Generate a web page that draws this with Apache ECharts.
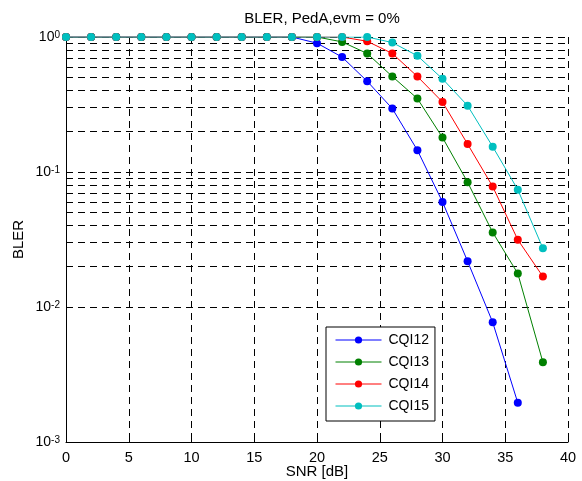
<!DOCTYPE html>
<html><head><meta charset="utf-8">
<script src="https://cdn.jsdelivr.net/npm/echarts@6/dist/echarts.min.js"></script>
<style>html,body{margin:0;padding:0;background:#fff}#c{width:582px;height:481px}</style>
</head><body><div id="c"></div>
<script>
const snr = [0,2,4,6,8,10,12,14,16,18,20,22,24,26,28,30,32,34,36,38];
const cqi12 = [1,1,1,1,1,1,1,1,1,1,0.90,0.71,0.47,0.295,0.145,0.060,0.0218,0.0077,0.00195,null];
const cqi13 = [1,1,1,1,1,1,1,1,1,1,1,0.92,0.755,0.51,0.35,0.18,0.084,0.0357,0.0177,0.0039];
const cqi14 = [1,1,1,1,1,1,1,1,1,1,1,1,0.93,0.755,0.51,0.33,0.161,0.078,0.0315,0.0168];
const cqi15 = [1,1,1,1,1,1,1,1,1,1,1,1,1,0.91,0.726,0.49,0.31,0.154,0.074,0.0272];
const seriesNames = ['CQI12','CQI13','CQI14','CQI15'];
const seriesColors = ['#0000ff','#008000','#ff0000','#00bfbf'];
const minorGrid = [0.002,0.003,0.004,0.005,0.006,0.007,0.008,0.009,
  0.02,0.03,0.04,0.05,0.06,0.07,0.08,0.09,
  0.2,0.3,0.4,0.5,0.6,0.7,0.8,0.9];
const yTickExp = {'1':'0','0.1':'-1','0.01':'-2','0.001':'-3'};

const font = 'Liberation Sans, Arial, sans-serif';
const dash = {type:[7,5], color:'#000', width:1};
const allData = [cqi12,cqi13,cqi14,cqi15];
const series = allData.map((d,i)=>({
  name: seriesNames[i], type:'line',
  data: snr.map((x,j)=>[x,d[j]]).filter(p=>p[1]!==null),
  color: seriesColors[i],
  symbol:'circle', symbolSize:8,
  lineStyle:{width:1, color:seriesColors[i]},
  itemStyle:{color:seriesColors[i]},
  z: 5+i
}));
series.unshift({
  type:'line', name:'_grid', data:[], silent:true, z:1,
  markLine:{silent:true, symbol:['none','none'], label:{show:false},
    lineStyle:dash, animation:false,
    data: minorGrid.map(v=>({yAxis:v}))}
});
const chart = echarts.init(document.getElementById('c'));
chart.setOption({
  animation:false,
  backgroundColor:'#fff',
  title:{text:'BLER, PedA,evm = 0%', left:317, top:6, textAlign:'center',
    textStyle:{fontFamily:font, fontSize:15, fontWeight:'normal', color:'#000'}},
  grid:{left:66, right:14, top:37, bottom:39, containLabel:false, outerBoundsMode:'none'},
  legend:{
    data:seriesNames, orient:'vertical', left:326, top:327,
    backgroundColor:'#fff', borderColor:'#000', borderWidth:1,
    padding:[6,6,8,9], itemWidth:46, itemHeight:9, itemGap:8,
    lineStyle:{width:1},
    textStyle:{fontFamily:font, fontSize:14, color:'#000', padding:[0,0,0,2]}
  },
  xAxis:{
    type:'value', min:0, max:40, interval:5,
    name:'SNR [dB]', nameLocation:'middle', nameGap:22, nameMoveOverlap:false,
    nameTextStyle:{fontFamily:font, fontSize:15, color:'#000'},
    axisLine:{onZero:false, lineStyle:{color:'#000', width:1}},
    axisTick:{inside:true, length:5, lineStyle:{color:'#000'}},
    axisLabel:{fontFamily:font, fontSize:14.5, color:'#000', margin:8},
    splitLine:{show:true, lineStyle:dash}
  },
  yAxis:{
    type:'log', logBase:10, min:0.001, max:1,
    name:'BLER', nameLocation:'middle', nameGap:40, nameMoveOverlap:false,
    nameTextStyle:{fontFamily:font, fontSize:15, color:'#000'},
    axisLine:{show:true, onZero:false, lineStyle:{color:'#000', width:1}},
    axisTick:{inside:true, length:5, lineStyle:{color:'#000'}},
    axisLabel:{margin:6, color:'#000',
      formatter:function(v){
        const k = String(+v.toPrecision(3));
        const e = yTickExp[k] !== undefined ? yTickExp[k] : '';
        return '{b|10}{s|' + e + '}';
      },
      rich:{
        b:{fontFamily:font, fontSize:14, lineHeight:14, color:'#000', padding:[4,0,0,0], verticalAlign:'bottom'},
        s:{fontFamily:font, fontSize:10, lineHeight:10, color:'#000', verticalAlign:'top'}
      }
    },
    splitLine:{show:true, lineStyle:dash}
  },
  series: series
});
</script></body></html>
